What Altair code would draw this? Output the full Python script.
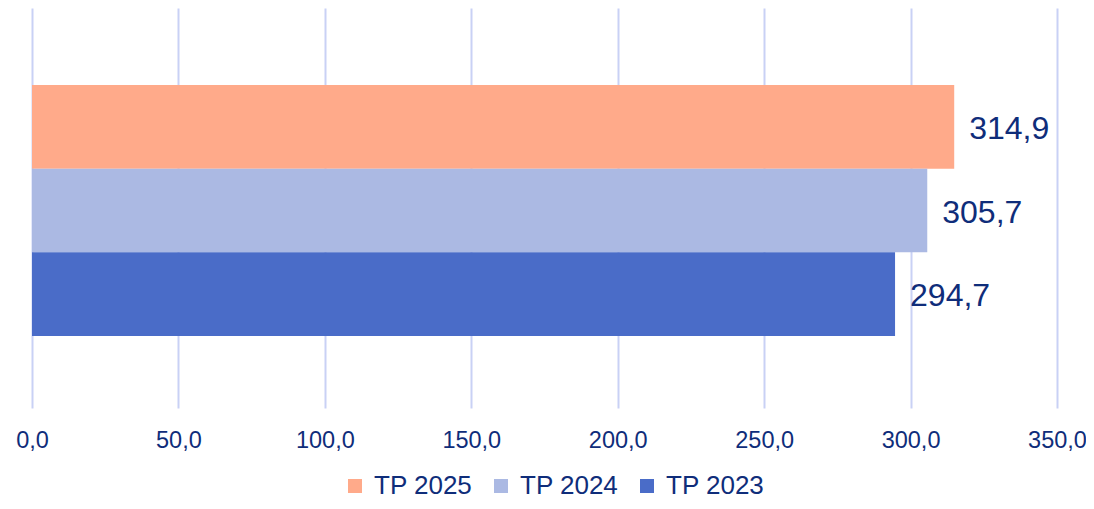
import altair as alt
import pandas as pd

series = ["TP 2025", "TP 2024", "TP 2023"]
values = [314.9, 305.7, 294.7]
colors = ["#FFAA8A", "#ABB9E3", "#4A6CC8"]
ticks = [0, 50, 100, 150, 200, 250, 300, 350]

df = pd.DataFrame({"series": series, "value": values})

text_color = "#0F2D7A"

base = alt.Chart(df).encode(
    y=alt.Y("series:N", sort=series, title=None,
            scale=alt.Scale(paddingInner=0, paddingOuter=0.89, align=0.517),
            axis=None),
)

bars = base.mark_bar().encode(
    x=alt.X("value:Q", title=None,
            scale=alt.Scale(domain=[0, 350], nice=False, zero=True),
            axis=alt.Axis(values=ticks, domain=False, ticks=False,
                          grid=True, gridColor="#C9D1F5", gridWidth=2,
                          labelFlush=False,
                          labelExpr="replace(format(datum.value, '.1f'), '.', ',')",
                          labelFont="Liberation Sans", labelFontSize=23.5,
                          labelColor=text_color, labelPadding=20)),
    color=alt.Color("series:N", sort=series,
                    scale=alt.Scale(domain=series, range=colors),
                    legend=alt.Legend(title=None, orient="none", direction="horizontal",
                                      legendX=310, legendY=465, padding=0,
                                      symbolType="square", symbolSize=196,
                                      symbolStrokeWidth=0,
                                      labelFont="Liberation Sans", labelFontSize=26,
                                      labelColor=text_color, columnPadding=15,
                                      labelOffset=6)),
)

labels = base.transform_calculate(
    lab="replace(format(datum.value, '.1f'), '.', ',')"
).mark_text(align="left", baseline="middle", dx=15, dy=2,
            font="Liberation Sans", fontSize=32, color=text_color).encode(
    x="value:Q",
    text="lab:N",
)

chart = (bars + labels).properties(
    width=1025, height=400,
    autosize=alt.AutoSizeParams(type="none"),
    padding={"left": 24, "top": 0, "right": 29, "bottom": 93},
).configure_view(stroke=None)

chart.save("out.html", embed_options={"renderer": "svg", "actions": False})
